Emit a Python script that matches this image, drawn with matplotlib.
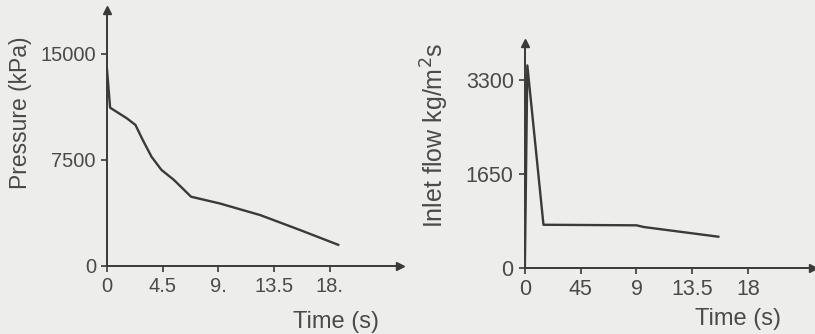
import numpy as np
import matplotlib.pyplot as plt

# Data
press_t = [0, 0.25, 1.6, 2.3, 2.9, 3.6, 4.4, 5.4, 6.8, 9.1, 12.4, 15.6, 18.7]
press_kpa = [13900, 11200, 10450, 9980, 8900, 7730, 6800, 6100, 4900, 4430, 3600, 2550, 1500]

flow_t = [0, 0.2, 1.5, 9.0, 9.6, 15.6]
flow = [0, 3560, 760, 750, 720, 550]

press_ticks = [0, 7500, 15000]
flow_ticks = [0, 1650, 3300]
time_ticks = [0, 4.5, 9, 13.5, 18]
left_time_labels = ["0", "4.5", "9.", "13.5", "18."]
right_time_labels = ["0", "45", "9", "13.5", "18"]

ink = "#3a3a3a"
txt = "#4a4a4a"
plt.rcParams["font.family"] = ["Liberation Sans", "DejaVu Sans"]

fig = plt.figure(figsize=(8.15, 3.34), dpi=100, facecolor="#ededeb")


def style(ax, xmax, ymax, lsize):
    ax.set_facecolor("none")
    ax.set_xlim(0, xmax)
    ax.set_ylim(0, ymax)
    for s in ["top", "right"]:
        ax.spines[s].set_visible(False)
    for s in ["left", "bottom"]:
        ax.spines[s].set_color(ink)
        ax.spines[s].set_linewidth(1.4)
    ax.tick_params(colors=ink, labelcolor=txt, labelsize=lsize, length=4, width=1.2,
                   direction="out", pad=4)
    ax.plot(1, 0, ">", color=ink, ms=6, transform=ax.get_yaxis_transform(), clip_on=False)
    ax.plot(0, 1, "^", color=ink, ms=6, transform=ax.get_xaxis_transform(), clip_on=False)


ax1 = fig.add_axes([0.1313, 0.2036, 0.3595, 0.766])
style(ax1, 23.7, 18100, 14.5)
ax1.plot(press_t, press_kpa, color=ink, lw=1.7)
ax1.set_yticks(press_ticks)
ax1.set_xticks(time_ticks)
ax1.set_xticklabels(left_time_labels)
ax1.set_ylabel("Pressure (kPa)", fontsize=16.5, color=txt)
ax1.yaxis.set_label_coords(-0.255, 0.6)
ax1.text(0.93, -0.22, "Time (s)", transform=ax1.transAxes, ha="right", va="center",
         fontsize=17, color=txt)

ax2 = fig.add_axes([0.644, 0.1976, 0.353, 0.673])
style(ax2, 23.2, 3950, 15.5)
ax2.plot(flow_t, flow, color=ink, lw=1.7)
ax2.set_yticks(flow_ticks)
ax2.set_xticks(time_ticks)
ax2.set_xticklabels(right_time_labels)
ax2.set_ylabel("Inlet flow kg/m$^2$s", fontsize=18, color=txt)
ax2.yaxis.set_label_coords(-0.255, 0.59)
ax2.text(0.89, -0.225, "Time (s)", transform=ax2.transAxes, ha="right", va="center",
         fontsize=17, color=txt)

fig.savefig("out.png", dpi=100, facecolor=fig.get_facecolor())
